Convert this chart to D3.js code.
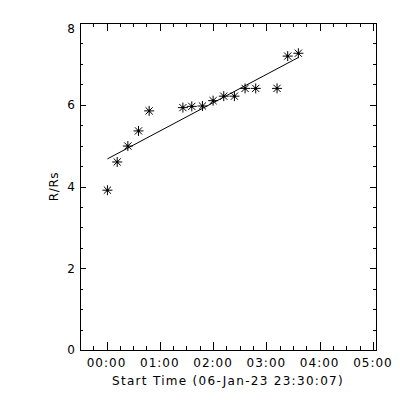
<!DOCTYPE html>
<html>
<head>
<meta charset="utf-8">
<script src="https://cdn.jsdelivr.net/npm/d3@7"></script>
<style>
  html, body { margin: 0; padding: 0; background: #fff; }
  svg { display: block; }
  text { font-family: "DejaVu Sans", sans-serif; fill: #000; }
</style>
</head>
<body>
<script>
// ---- data ----
const startLabel = "Start Time (06-Jan-23 23:30:07)";
const startTime = "2023-01-06T23:30:07Z";
const obsTimes = ["00:01","00:12","00:24","00:36","00:48","01:26","01:36","01:48",
                  "02:00","02:12","02:24","02:36","02:48","03:12","03:24","03:36"];
const heights = [3.91,4.60,4.99,5.36,5.85,5.93,5.96,5.97,6.10,6.21,6.21,6.40,6.40,6.40,7.19,7.26];
const yTicks = [0,2,4,6,8];
const xTickLabels = ["00:00","01:00","02:00","03:00","04:00","05:00"];
const yLabel = "R/Rs";

// ---- layout ----
const W = 400, H = 400;
const pL = 80, pR = 376, pT = 23, pB = 350;

const svg = d3.select("body").append("svg").attr("width", W).attr("height", H);
svg.append("rect").attr("width", W).attr("height", H).attr("fill", "#fff");

const t0 = new Date(startTime);
const tEnd = new Date(t0.getTime() + 20000 * 1000);
const x = d3.scaleUtc().domain([t0, tEnd]).range([pL, pR]);
const y = d3.scaleLinear().domain([0, 8]).range([pB, pT]);

const toDate = s => {
  const [h, m] = s.split(":").map(Number);
  return new Date(Date.UTC(2023, 0, 7, h, m, 0));
};
const data = obsTimes.map((s, i) => ({ t: toDate(s), v: heights[i] }));

// ---- frame ----
const g = svg.append("g").attr("stroke", "#000").attr("stroke-width", 1).attr("fill", "none").attr("shape-rendering", "crispEdges");
g.append("rect").attr("x", pL + 0.5).attr("y", pT + 0.5).attr("width", pR - pL).attr("height", pB - pT);

// x ticks: major each hour, minor each 15 min
const majorX = xTickLabels.map(toDate);
const minorX = d3.utcMinute.every(15).range(t0, tEnd).filter(d => d.getUTCMinutes() !== 0);
const xt = (d, len) => {
  const px = Math.round(x(d)) + 0.5;
  g.append("line").attr("x1", px).attr("x2", px).attr("y1", pB).attr("y2", pB - len);
  g.append("line").attr("x1", px).attr("x2", px).attr("y1", pT).attr("y2", pT + len);
};
majorX.forEach(d => xt(d, 8));
minorX.forEach(d => xt(d, 4));

// y ticks
const minorY = d3.range(0, 8.001, 0.5).filter(v => !yTicks.includes(v));
const yt = (v, len) => {
  const py = Math.round(y(v)) + 0.5;
  g.append("line").attr("x1", pL).attr("x2", pL + len).attr("y1", py).attr("y2", py);
  g.append("line").attr("x1", pR).attr("x2", pR - len).attr("y1", py).attr("y2", py);
};
yTicks.forEach(v => yt(v, 6));
minorY.forEach(v => yt(v, 3));

// tick labels
svg.append("g").selectAll("text").data(majorX).join("text")
  .attr("x", d => x(d)).attr("y", 367)
  .attr("text-anchor", "middle").attr("font-size", 12).attr("letter-spacing", 1)
  .text((d, i) => xTickLabels[i]);

svg.append("g").selectAll("text").data(yTicks).join("text")
  .attr("x", 75).attr("y", v => Math.max(y(v), pT + 6))
  .attr("dy", "0.36em")
  .attr("text-anchor", "end").attr("font-size", 12)
  .text(v => v);

// axis titles
svg.append("text").attr("x", (pL + pR) / 2).attr("y", 385)
  .attr("text-anchor", "middle").attr("font-size", 12).attr("letter-spacing", 1.3).text(startLabel);
svg.append("text").attr("transform", `translate(57.5,${(pT + pB) / 2}) rotate(-90)`)
  .attr("text-anchor", "middle").attr("font-size", 12).attr("letter-spacing", 0.6).text(yLabel);

// ---- linear fit ----
const xs = data.map(d => d.t.getTime() / 3.6e6), ys = data.map(d => d.v);
const mx = d3.mean(xs), my = d3.mean(ys);
const slope = d3.sum(xs, (xi, i) => (xi - mx) * (ys[i] - my)) / d3.sum(xs, xi => (xi - mx) ** 2);
const icpt = my - slope * mx;
const ext = d3.extent(data, d => d.t);
svg.append("path")
  .datum(ext)
  .attr("d", d3.line().x(d => x(d)).y(d => y(icpt + slope * d.getTime() / 3.6e6)))
  .attr("stroke", "#000").attr("stroke-width", 1).attr("fill", "none");

// ---- asterisk symbols ----
const r = 5;
const star = `M${-r},0L${r},0M0,${-r}L0,${r}M${-r*0.72},${-r*0.72}L${r*0.72},${r*0.72}M${-r*0.72},${r*0.72}L${r*0.72},${-r*0.72}`;
const sg = svg.append("g").selectAll("g").data(data).join("g")
  .attr("transform", d => `translate(${x(d.t)},${y(d.v)})`);
sg.append("path").attr("d", star).attr("stroke", "#000").attr("stroke-width", 1).attr("fill", "none");
sg.append("circle").attr("r", 1.3).attr("fill", "#000");
</script>
</body>
</html>
